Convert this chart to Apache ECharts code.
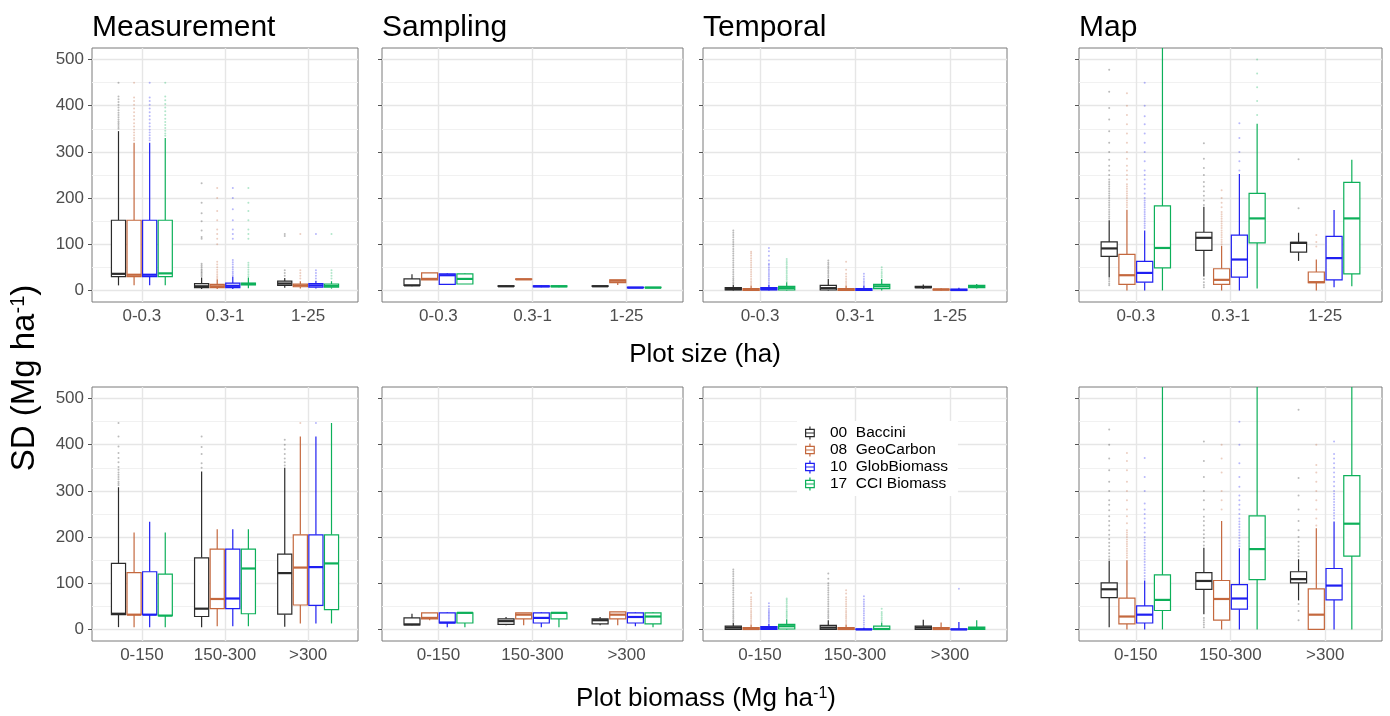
<!DOCTYPE html>
<html>
<head>
<meta charset="utf-8">
<script src="https://cdn.jsdelivr.net/npm/echarts@6/dist/echarts.min.js"></script>
<style>html,body{margin:0;padding:0;background:#fff;}#c{width:1390px;height:716px;}</style>
</head>
<body>
<div id="c"></div>
<script>
// ---------------- DATA ----------------
const sizeCats = ['0-0.3', '0.3-1', '1-25'];
const biomassCats = ['0-150', '150-300', '>300'];
const mapNames = ['00  Baccini', '08  GeoCarbon', '10  GlobBiomass', '17  CCI Biomass'];
const panelTitles = ['Measurement', 'Sampling', 'Temporal', 'Map'];
const yTickValues = [0, 100, 200, 300, 400, 500];
const yMinorValues = [50, 150, 250, 350, 450];

// box stats per map product: [lower whisker, Q1, median, Q3, upper whisker] for each category
const measurementSize = [
  [[11,30,36,152,345],[3,6,9,15,28],[6,11,15,20,27]],
  [[11,30,34,152,320],[3,6,9,13,24],[4,8,11,14,20]],
  [[11,30,34,152,320],[3,6,10,16,30],[4,7,11,15,21]],
  [[11,30,37,152,330],[5,12,14,16,28],[4,7,10,14,20]]
];
const measurementSizeOut = [
  [[350,354,358,362,366,370,375,380,385,390,396,402,408,414,420,450],[31,34,37,40,43,46,50,54,58,112,116,130,150,167,190,232],[32,38,44,118,122]],
  [[325,330,336,342,348,355,362,370,378,386,394,402,410,418,450],[27,31,35,40,45,50,56,62,100,112,122,132,152,172,200,222],[26,32,38,44,122]],
  [[325,330,336,342,348,355,362,370,378,386,394,402,410,418,450],[33,37,41,46,51,56,61,66,112,122,132,152,176,200,222],[26,32,38,44,122]],
  [[335,340,346,352,358,365,372,380,388,396,404,412,420,450],[31,35,40,45,50,55,60,112,122,132,152,172,190,222],[26,32,38,44,122]]
];
const samplingSize = [
  [[9,11,11,25,35],[8,9,9,10,11],[8,9,9,10,10]],
  [[23,23,25,38,38],[23,24,24,25,25],[12,17,21,23,23]],
  [[13,13,33,36,38],[7,8,9,10,12],[6,6,6,7,7]],
  [[14,14,25,36,38],[7,8,9,10,11],[6,6,6,7,7]]
];
const samplingSizeOut = [[[],[],[]],[[],[],[]],[[],[],[]],[[],[],[]]];
const temporalSize = [
  [[0,1,3,6,12],[0,1,5,11,25],[3,6,7,9,13]],
  [[0,0,2,4,10],[0,0,2,4,10],[0,1,2,3,5]],
  [[0,1,3,6,12],[0,0,2,4,10],[0,0,1,3,6]],
  [[0,1,5,9,18],[0,4,9,13,25],[4,6,9,11,14]]
];
const temporalSizeOut = [
  [[14,18,22,26,30,35,40,45,50,55,60,65,70,75,80,85,90,95,100,105,110,115,120,125,130],[28,32,36,40,44,48,52,56,60,65],[]],
  [[12,16,20,25,30,35,40,45,50,55,60,65,70,75,80,84],[12,16,20,25,30,36,45,62],[]],
  [[14,18,22,26,30,34,38,42,46,50,55,58,65,75,85,92],[12,16,20,25,30,36],[]],
  [[20,24,28,32,36,40,44,48,52,56,60,64,68],[28,32,36,40,45,50],[]]
];
const mapSize = [
  [[28,74,91,105,152],[30,87,114,126,181],[64,83,103,104,125]],
  [[0,13,33,78,175],[0,13,23,47,97],[0,17,18,40,67]],
  [[0,18,38,63,130],[0,29,67,120,252],[7,23,70,117,174]],
  [[0,49,92,183,600],[4,103,156,210,361],[9,36,156,234,283]]
];
const mapSizeOut = [
  [[11,15,20,25,156,160,165,170,175,180,185,190,195,200,205,210,215,220,225,230,235,240,250,260,270,283,300,320,345,370,395,430,478],[7,12,18,25,185,195,205,215,225,235,250,265,285,319],[178,284]],
  [[180,185,190,195,200,205,210,215,220,225,230,240,250,260,270,285,300,320,340,360,380,400,427],[100,105,110,115,120,125,130,135,140,145,150,155,160,165,170,180,190,200,217],[95,105,120]],
  [[135,140,145,150,155,160,165,170,175,180,185,190,195,200,210,220,230,240,250,260,280,300,320,340,360,377,400,450],[260,280,300,330,362],[]],
  [[],[380,410,440,470,500],[]]
];
const measurementBiomass = [
  [[5,32,34,143,308],[5,28,45,155,342],[6,33,122,163,350]],
  [[5,32,32,123,210],[7,45,66,174,217],[13,53,134,205,418]],
  [[5,32,32,125,233],[7,45,67,174,217],[13,52,135,205,418]],
  [[5,30,30,120,210],[7,34,132,174,217],[13,43,143,205,447]]
];
const measurementBiomassOut = [
  [[312,316,320,325,330,335,340,346,352,362,371,382,396,418,447],[350,360,380,395,418],[355,362,370,380,390,400,411]],
  [[],[],[447]],
  [[],[],[447]],
  [[],[],[]]
];
const samplingBiomass = [
  [[9,10,11,25,34],[9,11,18,23,27],[9,12,20,23,27]],
  [[20,23,25,36,36],[9,23,32,36,36],[9,23,32,38,38]],
  [[5,14,15,36,38],[5,14,25,36,38],[7,14,27,36,38]],
  [[5,14,36,36,36],[5,23,36,36,36],[5,12,28,36,38]]
];
const samplingBiomassOut = [[[],[],[]],[[],[],[]],[[],[],[]],[[],[],[]]];
const temporalBiomass = [
  [[0,0,4,7,14],[0,0,4,9,20],[0,0,4,7,21]],
  [[0,0,1,4,10],[0,0,1,4,10],[0,0,1,4,15]],
  [[0,0,3,6,12],[0,0,0,1,3],[0,0,0,1,16]],
  [[0,1,7,11,22],[0,0,1,7,15],[0,0,3,5,20]]
];
const temporalBiomassOut = [
  [[16,20,24,28,32,36,40,45,50,55,60,65,70,75,80,85,90,95,100,105,110,115,120,125,130],[24,28,32,36,40,45,50,55,60,65,70,75,80,85,90,95,100,110,121],[]],
  [[12,16,20,24,28,32,36,40,45,50,55,60,65,70,79],[12,16,20,24,28,32,36,40,45,50,55,60,65,70,78,85],[]],
  [[14,17,20,23,26,29,32,35,38,41,45,50,57],[5,10,15,20,25,30,35,40,45,50,55,60,65,72],[88]],
  [[25,28,31,34,37,40,44,48,52,56,60,64,67],[18,22,26,30,34,38,45],[]]
];
const mapBiomass = [
  [[5,69,87,101,149],[33,87,105,123,177],[63,101,109,125,152]],
  [[0,12,28,68,150],[0,20,66,106,235],[0,0,32,88,219]],
  [[0,14,32,51,106],[0,44,67,97,176],[0,64,95,132,234]],
  [[0,41,64,118,600],[0,108,174,246,600],[0,159,229,333,600]]
];
const mapBiomassOut = [
  [[152,158,165,172,180,188,196,205,215,225,235,245,258,270,280,300,320,345,370,400,433],[5,10,15,20,25,182,190,198,206,215,225,235,244,260,280,300,330,365,407],[20,40,55,158,165,172,180,190,200,215,235,260,290,328,476]],
  [[155,160,165,170,175,180,185,190,195,200,205,210,215,230,245,260,280,300,320,345,365,382],[260,280,300,340,370,400],[225,240,260,280,300,320,340,356,400]],
  [[110,116,122,128,134,140,146,152,158,164,170,176,182,188,194,200,210,220,230,240,250,260,273,300,330,371],[180,186,192,198,204,210,216,222,228,234,240,250,260,270,280,290,309,330,360,400,450],[240,246,252,258,264,270,276,282,288,294,300,310,320,330,340,350,360,370,380,407]],
  [[],[],[]]
];

// ---------------- LAYOUT / STYLE ----------------
const FONT = '"Liberation Sans", Arial, Helvetica, sans-serif';
const colors = ['#2b2b2b', '#C4683E', '#1f1ff2', '#0db05a'];
const colLeft = [92, 382, 703, 1079];
const colWidth = [266, 301, 304, 303];
const rowTop = [48, 387];
const rowHeight = 254;
const Y_MIN = -25, Y_MAX = 525;
const DODGE = 0.1875, BOXW = 0.17;

const panels = [
  {box: measurementSize, out: measurementSizeOut, cats: sizeCats},
  {box: samplingSize, out: samplingSizeOut, cats: sizeCats},
  {box: temporalSize, out: temporalSizeOut, cats: sizeCats},
  {box: mapSize, out: mapSizeOut, cats: sizeCats},
  {box: measurementBiomass, out: measurementBiomassOut, cats: biomassCats},
  {box: samplingBiomass, out: samplingBiomassOut, cats: biomassCats},
  {box: temporalBiomass, out: temporalBiomassOut, cats: biomassCats},
  {box: mapBiomass, out: mapBiomassOut, cats: biomassCats}
];

const grid = [], xAxis = [], yAxis = [], series = [];

function makeRender(k, outs) {
  return function (params, api) {
    const ci = api.value(0);
    const xc = ci + (k - 1.5) * DODGE;
    const cl = v => Math.max(Y_MIN, Math.min(Y_MAX, v));
    const lo = cl(api.value(1)), q1 = cl(api.value(2)), med = cl(api.value(3)),
          q3 = cl(api.value(4)), hi = cl(api.value(5));
    const X = api.coord([xc, 0])[0];
    const hw = api.size([BOXW, 0])[0] / 2;
    const Y = v => api.coord([xc, v])[1];
    const col = colors[k];
    const children = [];
    (outs[params.dataIndex] || []).forEach(v => {
      if (v <= Y_MAX) children.push({type: 'circle', shape: {cx: X, cy: Y(v), r: 1.0},
        style: {fill: col, opacity: 0.32}});
    });
    children.push({type: 'line', shape: {x1: X, y1: Y(q3), x2: X, y2: Y(hi)}, style: {stroke: col, lineWidth: 1.2}});
    children.push({type: 'line', shape: {x1: X, y1: Y(q1), x2: X, y2: Y(lo)}, style: {stroke: col, lineWidth: 1.2}});
    children.push({type: 'rect', shape: {x: X - hw, y: Y(q3), width: 2 * hw, height: Math.max(0.5, Y(q1) - Y(q3))},
      style: {fill: '#fff', stroke: col, lineWidth: 1.2}});
    children.push({type: 'line', shape: {x1: X - hw, y1: Y(med), x2: X + hw, y2: Y(med)}, style: {stroke: col, lineWidth: 2.2}});
    return {type: 'group', children: children};
  };
}

panels.forEach((p, i) => {
  const row = Math.floor(i / 4), col = i % 4;
  grid.push({left: colLeft[col], top: rowTop[row], width: colWidth[col], height: rowHeight,
    show: true, borderColor: '#7a7a7a', borderWidth: 1, backgroundColor: '#fff'});
  xAxis.push({type: 'value', gridIndex: i, min: 0.4, max: 3.6,
    axisLine: {show: false}, splitLine: {show: false},
    axisTick: {show: true, customValues: [1, 2, 3], length: 4, lineStyle: {color: '#555'}},
    axisLabel: {customValues: [1, 2, 3], formatter: v => p.cats[Math.round(v) - 1],
      fontSize: 17, color: '#4d4d4d', fontFamily: FONT, margin: 6}});
  yAxis.push({type: 'value', gridIndex: i, min: Y_MIN, max: Y_MAX,
    axisLine: {show: false}, splitLine: {show: false},
    axisTick: {show: true, customValues: yTickValues, length: 4, lineStyle: {color: '#555'}},
    axisLabel: {show: col === 0, customValues: yTickValues, fontSize: 17, color: '#4d4d4d',
      fontFamily: FONT, margin: 8}});
  const gl = [];
  yMinorValues.forEach(v => gl.push({yAxis: v, lineStyle: {color: '#f1f1f1', width: 1, type: 'solid'}}));
  yTickValues.forEach(v => gl.push({yAxis: v, lineStyle: {color: '#e6e6e6', width: 1.4, type: 'solid'}}));
  [1, 2, 3].forEach(v => gl.push({xAxis: v, lineStyle: {color: '#e6e6e6', width: 1.4, type: 'solid'}}));
  series.push({type: 'scatter', xAxisIndex: i, yAxisIndex: i, data: [], silent: true, z: 1,
    markLine: {silent: true, symbol: 'none', animation: false, label: {show: false}, z: 1,
      emphasis: {disabled: true}, data: gl}});
  for (let k = 0; k < 4; k++) {
    series.push({type: 'custom', name: mapNames[k], xAxisIndex: i, yAxisIndex: i, z: 3,
      itemStyle: {color: colors[k]},
      encode: {x: 0, y: [1, 2, 3, 4, 5]},
      data: p.box[k].map((s, ci) => [ci + 1].concat(s)),
      renderItem: makeRender(k, p.out[k])});
  }
});

const legendIcon = 'path://M6,0 L6,4 M0,4 L12,4 L12,14 L0,14 Z M0,9 L12,9 M6,14 L6,18';

const option = {
  animation: false,
  backgroundColor: '#fff',
  textStyle: {fontFamily: FONT},
  title: panelTitles.map((t, c) => ({text: t, left: colLeft[c] - 5, top: 8,
    textStyle: {fontSize: 30, fontWeight: 'normal', color: '#000', fontFamily: FONT}})),
  legend: {
    orient: 'vertical', left: 797, top: 421, itemWidth: 30, itemHeight: 13, itemGap: 1,
    backgroundColor: '#fff', padding: [4, 10, 4, 8], selectedMode: false, z: 10,
    textStyle: {fontSize: 15.5, color: '#000', fontFamily: FONT},
    data: mapNames.map((n, k) => ({name: n, icon: legendIcon,
      itemStyle: {color: 'transparent', borderColor: colors[k], borderWidth: 1.2}}))
  },
  grid: grid, xAxis: xAxis, yAxis: yAxis, series: series,
  graphic: [
    {type: 'text', x: 705, y: 355, style: {text: 'Plot size (ha)', fontSize: 26, fontFamily: FONT,
      fill: '#000', align: 'center', verticalAlign: 'middle'}},
    {type: 'text', x: 706, y: 699, style: {text: '{a|Plot biomass (Mg ha}{s|-1}{a|)}',
      fill: '#000', align: 'center', verticalAlign: 'middle',
      rich: {a: {fontSize: 26, fontFamily: FONT, fill: '#000'},
             s: {fontSize: 16, fontFamily: FONT, fill: '#000', verticalAlign: 'top'}}}},
    {type: 'text', x: 25, y: 378, rotation: Math.PI / 2, style: {text: '{a|SD (Mg ha}{s|-1}{a|)}',
      fill: '#000', align: 'center', verticalAlign: 'middle',
      rich: {a: {fontSize: 33, fontFamily: FONT, fill: '#000'},
             s: {fontSize: 20, fontFamily: FONT, fill: '#000', verticalAlign: 'top'}}}}
  ]
};

const chart = echarts.init(document.getElementById('c'), null, {renderer: 'canvas'});
chart.setOption(option);
</script>
</body>
</html>
